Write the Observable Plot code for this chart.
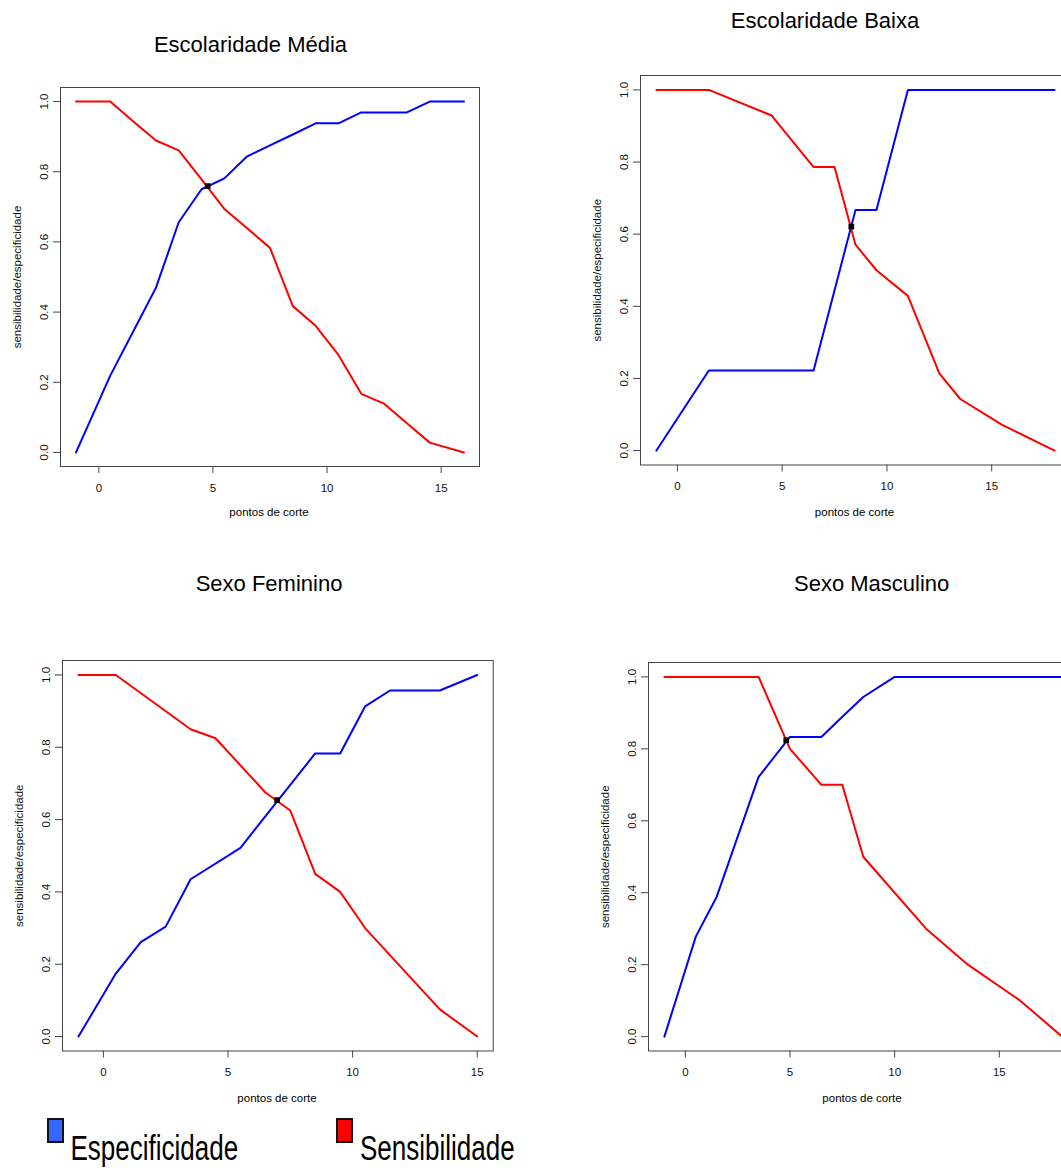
<!DOCTYPE html>
<html>
<head>
<meta charset="utf-8">
<script src="https://cdn.jsdelivr.net/npm/d3@7"></script>
<script src="https://cdn.jsdelivr.net/npm/@observablehq/plot@0.6"></script>
<style>
  html, body { margin: 0; padding: 0; background: #ffffff; }
  #fig { position: relative; width: 1061px; height: 1168px; overflow: hidden; background: #ffffff;
         font-family: Arial, "Liberation Sans", Helvetica, sans-serif; }
  #fig svg { position: absolute; }
  .txt { position: absolute; white-space: nowrap; line-height: 1; color: #000; }
  .box { position: absolute; box-sizing: border-box; border: 2px solid #111; }
</style>
</head>
<body>
<div id="fig"></div>
<script>
// ---------------- data ----------------
const titles = ["Escolaridade Média", "Escolaridade Baixa", "Sexo Feminino", "Sexo Masculino"];
const xLabel = "pontos de corte";
const yLabel = "sensibilidade/especificidade";
const legendLabels = ["Especificidade", "Sensibilidade"];
const seriesColors = ["#0000FF", "#FF0000"];
const legendColors = ["#3366FF", "#FF0000"];
const xTicks = [0, 5, 10, 15];
const yTicks = [0, 0.2, 0.4, 0.6, 0.8, 1.0];

// Escolaridade Média
const espX1  = [-1, 0.5, 1.5, 2.5, 3.5, 4.5, 5.5, 6.5, 7.5, 8.5, 9.5, 10.5, 11.5, 12.5, 13.5, 14.5, 16];
const espY1  = [0, 0.219, 0.344, 0.469, 0.656, 0.75, 0.781, 0.844, 0.875, 0.906, 0.938, 0.938, 0.969, 0.969, 0.969, 1, 1];
const sensX1 = [-1, 0.5, 1.5, 2.5, 3.5, 4.5, 5.5, 6.5, 7.5, 8.5, 9.5, 10.5, 11.5, 12.5, 13.5, 14.5, 16];
const sensY1 = [1, 1, 0.944, 0.889, 0.861, 0.778, 0.694, 0.639, 0.583, 0.417, 0.361, 0.278, 0.167, 0.139, 0.083, 0.028, 0];
const cut1 = [4.77, 0.759];

// Escolaridade Baixa
const espX2  = [-1, 1.5, 6.5, 8.5, 9.5, 11, 18];
const espY2  = [0, 0.222, 0.222, 0.667, 0.667, 1, 1];
const sensX2 = [-1, 1.5, 4.5, 6.5, 7.5, 8.5, 9.5, 11, 12.5, 13.5, 15.5, 18];
const sensY2 = [1, 1, 0.929, 0.786, 0.786, 0.571, 0.5, 0.429, 0.214, 0.143, 0.071, 0];
const cut2 = [8.3, 0.621];

// Sexo Feminino
const espX3  = [-1, 0.5, 1.5, 2.5, 3.5, 5.5, 8.5, 9.5, 10.5, 11.5, 13.5, 15];
const espY3  = [0, 0.174, 0.261, 0.304, 0.435, 0.522, 0.783, 0.783, 0.913, 0.957, 0.957, 1];
const sensX3 = [-1, 0.5, 3.5, 4.5, 6.5, 7.5, 8.5, 9.5, 10.5, 13.5, 15];
const sensY3 = [1, 1, 0.85, 0.825, 0.675, 0.625, 0.45, 0.4, 0.3, 0.075, 0];
const cut3 = [6.97, 0.654];

// Sexo Masculino
const espX4  = [-1, 0.5, 1.5, 3.5, 5, 6.5, 7.5, 8.5, 10, 18];
const espY4  = [0, 0.278, 0.389, 0.722, 0.833, 0.833, 0.889, 0.944, 1, 1];
const sensX4 = [-1, 3.5, 5, 6.5, 7.5, 8.5, 11.5, 13.5, 16, 18];
const sensY4 = [1, 1, 0.8, 0.7, 0.7, 0.5, 0.3, 0.2, 0.1, 0];
const cut4 = [4.82, 0.824];

// ---------------- layout ----------------
const fig = document.getElementById("fig");
const FONT = 'Arial, "Liberation Sans", Helvetica, sans-serif';
const mL = 60, mR = 10, mT = 10, mB = 42;

const frames = [
  {L: 60,    R: 479,    T: 87,    B: 466},
  {L: 639.5, R: 1069.5, T: 74.5,  B: 464},
  {L: 62,    R: 492.7,  T: 659.5, B: 1050},
  {L: 647.5, R: 1077,   T: 661.5, B: 1050}
];
const titlePos  = [[250.5, 52.7], [825, 29], [269, 591.7], [871.7, 591.7]];
const xLabelPos = [[269, 516.7], [854.5, 516.5], [277, 1103.2], [862, 1103.2]];

function addText(str, x, baseline, size, anchor, scaleY) {
  const d = document.createElement("div");
  d.className = "txt";
  d.textContent = str;
  d.style.fontSize = size + "px";
  d.style.top = (baseline - 0.8465 * size) + "px";
  d.style.left = x + "px";
  let tf = anchor === "middle" ? "translateX(-50%)" : "";
  if (scaleY) {
    tf += ` scaleY(${scaleY})`;
    d.style.transformOrigin = `0 ${0.8465 * size}px`;
  }
  d.style.transform = tf;
  fig.appendChild(d);
}

function makePanel(i, espX, espY, sensX, sensY, cut) {
  const f = frames[i];
  const [xMin, xMax] = d3.extent([...espX, ...sensX]);
  const ext = 0.04 * (xMax - xMin);
  const esp = espX.map((x, j) => ({x, y: espY[j]}));
  const sens = sensX.map((x, j) => ({x, y: sensY[j]}));
  const cutPt = [{x: cut[0], y: cut[1]}];
  const plot = Plot.plot({
    width: f.R - f.L + mL + mR,
    height: f.B - f.T + mT + mB,
    marginLeft: mL, marginRight: mR, marginTop: mT, marginBottom: mB,
    x: {domain: [xMin - ext, xMax + ext]},
    y: {domain: [-0.04, 1.04]},
    style: {fontFamily: FONT, fontSize: "11.5px", color: "#222", background: "transparent", overflow: "visible"},
    marks: [
      Plot.line(esp,  {x: "x", y: "y", stroke: seriesColors[0], strokeWidth: 2}),
      Plot.line(sens, {x: "x", y: "y", stroke: seriesColors[1], strokeWidth: 2}),
      Plot.dot(cutPt, {x: "x", y: "y", symbol: "square", r: 3.2, fill: "#000", stroke: "none"}),
      Plot.frame({stroke: "#444", strokeWidth: 1}),
      Plot.axisX(xTicks, {tickSize: 7, tickPadding: 10, label: null, stroke: "#444", fill: "#111"}),
      Plot.axisY(yTicks, {tickSize: 7, tickRotate: -90, tickPadding: 5.5, tickFormat: d3.format(".1f"),
                          label: yLabel, labelAnchor: "center", labelOffset: 47.5, labelArrow: "none",
                          stroke: "#444", fill: "#111"})
    ]
  });
  plot.style.left = (f.L - mL) + "px";
  plot.style.top = (f.T - mT) + "px";
  fig.appendChild(plot);
  addText(titles[i], titlePos[i][0], titlePos[i][1], 22, "middle");
  addText(xLabel, xLabelPos[i][0], xLabelPos[i][1], 11.5, "middle");
}

makePanel(0, espX1, espY1, sensX1, sensY1, cut1);
makePanel(1, espX2, espY2, sensX2, sensY2, cut2);
makePanel(2, espX3, espY3, sensX3, sensY3, cut3);
makePanel(3, espX4, espY4, sensX4, sensY4, cut4);

// ---------------- legend ----------------
const legendBoxes = [[47, 1118], [335.5, 1118]];
const legendText = [[70.5, 1160], [360, 1160]];
legendLabels.forEach((lab, k) => {
  const b = document.createElement("div");
  b.className = "box";
  b.style.left = legendBoxes[k][0] + "px";
  b.style.top = legendBoxes[k][1] + "px";
  b.style.width = "17px";
  b.style.height = "25px";
  b.style.background = legendColors[k];
  fig.appendChild(b);
  addText(lab, legendText[k][0], legendText[k][1], 26, "start", 1.34);
});
</script>
</body>
</html>
